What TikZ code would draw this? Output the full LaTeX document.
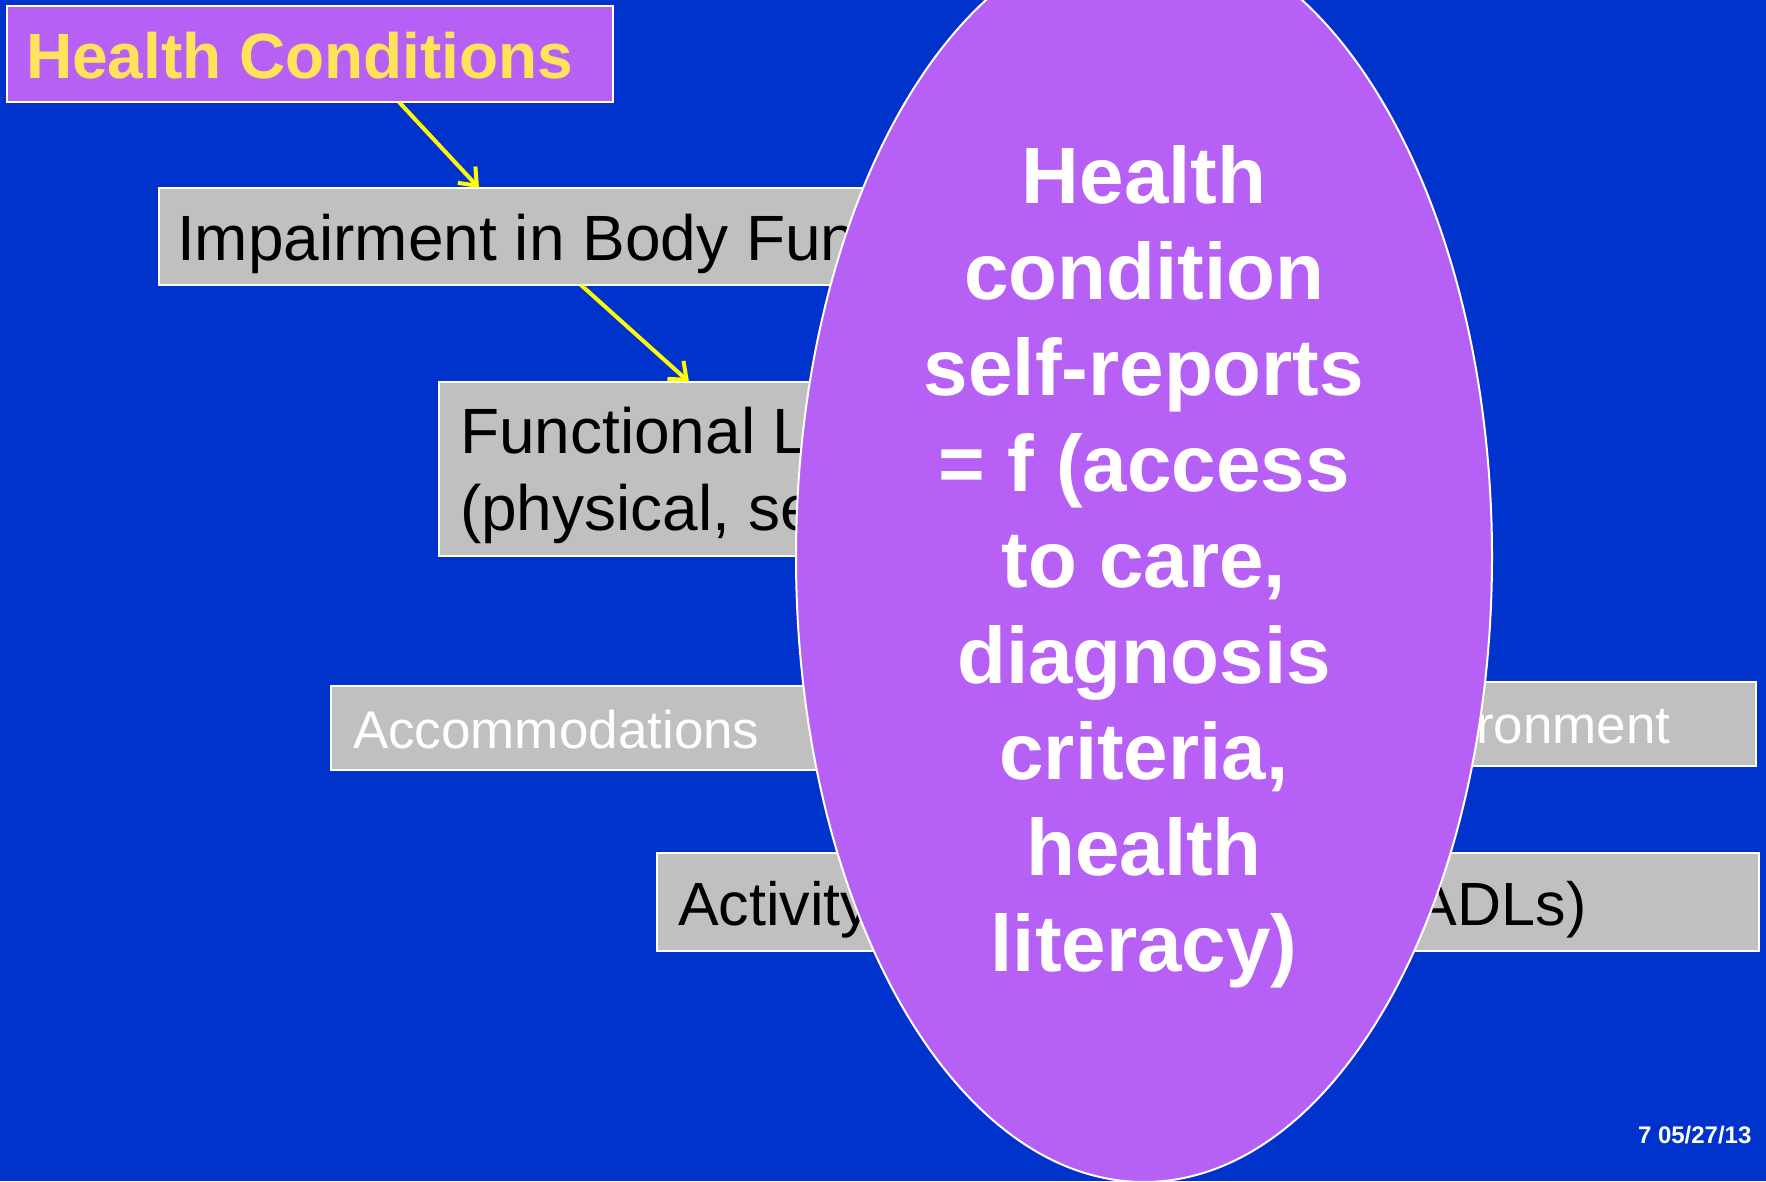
\documentclass[tikz,border=0pt]{standalone}
\usepackage{fontspec}
\setmainfont{Liberation Sans}
\usetikzlibrary{arrows.meta,shapes.geometric}
\definecolor{bgblue}{RGB}{0,51,204}
\definecolor{purp}{RGB}{183,96,245}
\definecolor{gbox}{RGB}{192,192,192}
\definecolor{ytext}{RGB}{255,228,90}
\definecolor{yarrow}{RGB}{255,255,0}
\begin{document}
\begin{tikzpicture}[x=1pt,y=-1pt,
  box/.style={draw=white,line width=2pt,anchor=north west,inner sep=0pt,outer sep=0pt},
  graybox/.style={box,fill=gbox},
  purpbox/.style={box,fill=purp},
  lbl/.style={anchor=base west,inner sep=0pt,outer sep=0pt},
  blk/.style={lbl,text=black,font=\fontsize{64}{77}\selectfont},
  wht/.style={lbl,text=white,font=\fontsize{53}{64}\selectfont},
  yarr/.style={draw=yarrow,line width=4pt,-{Straight Barb[length=15pt,width=24pt,line width=4pt]}},
  bigell/.style={ellipse,draw=white,line width=2pt,fill=purp,minimum width=696pt,minimum height=1250pt,inner sep=0pt},
  elltext/.style={text=white,align=center,font=\bfseries\fontsize{80}{96}\selectfont,inner sep=0pt}
]
\useasboundingbox (0,0) rectangle (1766,1181);
\fill[bgblue] (0,0) rectangle (1766,1181);

% boxes
\node[purpbox,minimum width=606pt,minimum height=96pt] (hc) at (7,6) {};
\node[graybox,minimum width=901pt,minimum height=97pt] (imp) at (159,188) {};
\node[graybox,minimum width=811pt,minimum height=174pt] (fun) at (439,382) {};
\node[graybox,minimum width=569pt,minimum height=84pt] (acc) at (331,686) {};
\node[graybox,minimum width=556pt,minimum height=84pt] (env) at (1200,682) {};
\node[graybox,minimum width=1102pt,minimum height=98pt] (act) at (657,853) {};

% texts
\node[lbl,text=ytext,font=\bfseries\fontsize{64}{77}\selectfont] (thc) at (26,78.5) {Health Conditions};
\node[blk] (timp) at (177,260) {Impairment in Body Functions};
\node[blk] (tfun1) at (460,453.5) {Functional Limitations};
\node[blk] (tfun2) at (460,530) {(physical, sensory, mental)};
\node[wht] (tacc) at (353,748) {Accommodations};
\node[wht] (tenv) at (1373,743) {Environment};
\node[blk,font=\fontsize{61}{73}\selectfont] (tact) at (678,925) {Activity Limitations (ADLs, IADLs)};

% arrows
\draw[yarr] ([xshift=392pt]hc.south west) -- ([xshift=320pt]imp.north west);
\draw[yarr] ([xshift=422pt]imp.south west) -- ([xshift=250pt]fun.north west);

% ellipse
\node[bigell] (el) at (1144,557) {};
\node[elltext] (eltxt) at (1144,567) {Health\\condition\\self-reports\\= f (access\\to care,\\diagnosis\\criteria,\\health\\literacy)};

% footer
\node[lbl,text=white,font=\bfseries\fontsize{24}{29}\selectfont] (foot) at (1638,1143) {7 05/27/13};
\end{tikzpicture}
\end{document}
